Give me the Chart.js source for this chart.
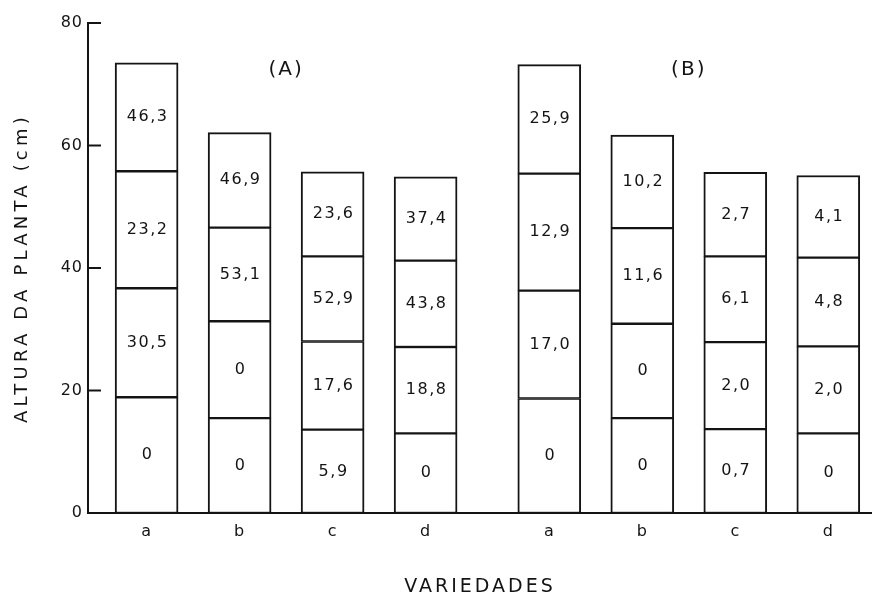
<!DOCTYPE html>
<html>
<head>
<meta charset="utf-8">
<script src="https://cdn.jsdelivr.net/npm/chart.js@4"></script>
<style>
  html, body { margin: 0; padding: 0; background: #fff; }
  canvas { display: block; }
</style>
</head>
<body>
<canvas id="chart" width="872" height="598"></canvas>
<script>
// categories and groups
const categories = ['a', 'b', 'c', 'd'];
const groups = ['(A)', '(B)'];
const yTicks = [0, 20, 40, 60, 80];

// segment heights (cm), bottom -> top, bars A-a..A-d, B-a..B-d
const seg1 = [18.9, 15.5, 13.6, 13.0, 18.7, 15.5, 13.7, 13.0];
const seg2 = [17.8, 15.8, 14.4, 14.1, 17.6, 15.4, 14.2, 14.2];
const seg3 = [19.1, 15.3, 13.9, 14.1, 19.1, 15.6, 14.0, 14.5];
const seg4 = [17.7, 15.5, 13.8, 13.7, 17.8, 15.2, 13.7, 13.4];

// numbers printed inside each segment
const lab1 = ['0', '0', '5,9', '0', '0', '0', '0,7', '0'];
const lab2 = ['30,5', '0', '17,6', '18,8', '17,0', '0', '2,0', '2,0'];
const lab3 = ['23,2', '53,1', '52,9', '43,8', '12,9', '11,6', '6,1', '4,8'];
const lab4 = ['46,3', '46,9', '23,6', '37,4', '25,9', '10,2', '2,7', '4,1'];

const GROUP_GAP = 0.33;
const FONT = "'DejaVu Sans', sans-serif";
const INK = '#141414';

// x position of every bar (slot index, extra gap between the two groups)
const xPos = [];
groups.forEach((g, gi) => categories.forEach((c, ci) => xPos.push(gi * (categories.length + GROUP_GAP) + ci)));

function toPoints(arr) {
    return arr.map((v, i) => ({ x: xPos[i], y: v }));
}

const segs = [seg1, seg2, seg3, seg4];
const labs = [lab1, lab2, lab3, lab4];

const datasets = segs.map((s, i) => ({
    data: toPoints(s),
    backgroundColor: '#ffffff',
    borderColor: INK,
    borderWidth: { left: 2, right: 2, bottom: 1.5, top: i === segs.length - 1 ? 2 : 1.5 },
    borderSkipped: false,
    barThickness: 63
}));

const decorPlugin = {
    id: 'decor',
    beforeDraw(chart) {
        const ctx = chart.ctx;
        ctx.save();
        ctx.fillStyle = '#fff';
        ctx.fillRect(0, 0, chart.width, chart.height);
        ctx.restore();
        ctx.letterSpacing = '1px';
    },
    afterDatasetsDraw(chart) {
        const ctx = chart.ctx;
        ctx.save();
        ctx.fillStyle = INK;
        ctx.font = '16px ' + FONT;
        ctx.letterSpacing = '1.5px';
        ctx.textAlign = 'center';
        ctx.textBaseline = 'middle';
        labs.forEach((lab, i) => {
            chart.getDatasetMeta(i).data.forEach((bar, j) => {
                ctx.fillText(lab[j], bar.x + 1, (bar.y + bar.base) / 2);
            });
        });
        ctx.restore();
    },
    afterDraw(chart) {
        const ctx = chart.ctx;
        const { left, top, bottom, right } = chart.chartArea;
        const xs = chart.scales.x, ys = chart.scales.y;
        ctx.save();
        // inward ticks on y axis
        ctx.strokeStyle = INK;
        ctx.lineWidth = 2;
        ys.ticks.forEach((t, i) => {
            const py = ys.getPixelForTick(i);
            ctx.beginPath();
            ctx.moveTo(left, py);
            ctx.lineTo(left + 13, py);
            ctx.stroke();
        });
        ctx.fillStyle = INK;
        ctx.textAlign = 'center';
        ctx.textBaseline = 'middle';
        // group titles
        ctx.font = '20px ' + FONT;
        ctx.letterSpacing = '2px';
        groups.forEach((g, gi) => {
            const c = gi * (categories.length + GROUP_GAP) + (categories.length - 1) / 2;
            ctx.fillText(g, xs.getPixelForValue(c), ys.getPixelForValue(72.3));
        });
        // x axis title
        ctx.font = '19px ' + FONT;
        ctx.letterSpacing = '3px';
        ctx.fillText('VARIEDADES', (left + right) / 2, 587);
        // y axis title
        ctx.translate(22, (top + bottom) / 2);
        ctx.rotate(-Math.PI / 2);
        ctx.font = '18px ' + FONT;
        ctx.letterSpacing = '4.2px';
        ctx.fillText('ALTURA DA PLANTA (cm)', 0, 0);
        ctx.restore();
    }
};

new Chart(document.getElementById('chart'), {
    type: 'bar',
    data: { datasets },
    options: {
        responsive: false,
        animation: false,
        layout: { padding: { top: 23, left: 0, right: 0, bottom: 0 } },
        plugins: { legend: { display: false }, tooltip: { enabled: false } },
        scales: {
            x: {
                type: 'linear',
                stacked: true,
                offset: false,
                min: -0.63,
                max: 7.8,
                afterBuildTicks: s => { s.ticks = xPos.map(v => ({ value: v })); },
                afterFit: s => { s.height = 85; },
                grid: { display: false, drawTicks: false, offset: false },
                border: { display: true, color: INK, width: 2 },
                ticks: {
                    autoSkip: false,
                    maxRotation: 0,
                    padding: 9,
                    color: INK,
                    font: { family: FONT, size: 16 },
                    callback: (v, i) => categories[i % categories.length]
                }
            },
            y: {
                stacked: true,
                min: 0,
                max: 80,
                afterBuildTicks: s => { s.ticks = yTicks.map(v => ({ value: v })); },
                afterFit: s => { s.width = 88; },
                grid: { display: false, drawTicks: false },
                border: { display: true, color: INK, width: 2 },
                ticks: {
                    padding: 5,
                    color: INK,
                    font: { family: FONT, size: 16 }
                }
            }
        }
    },
    plugins: [decorPlugin]
});
</script>
</body>
</html>
